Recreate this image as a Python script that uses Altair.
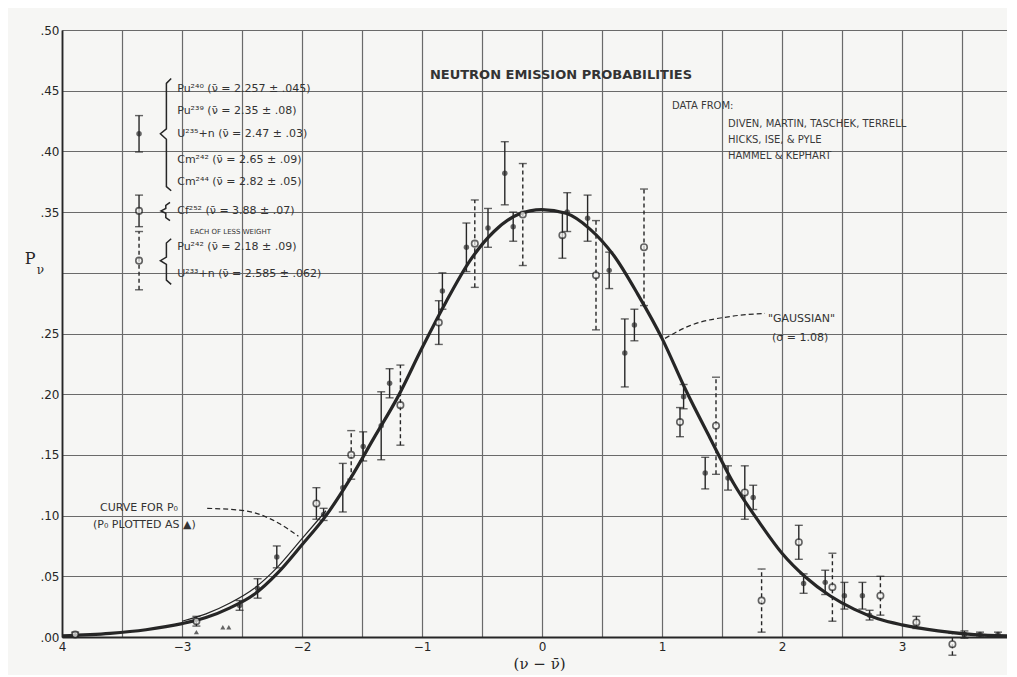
import altair as alt
import pandas as pd

BG = "#f6f6f4"
INK = "#262626"
GRID = "#6a6a6a"
FONT = "DejaVu Sans"

# ---------------- data ----------------
# "Gaussian" curve (sigma = 1.08)
curve_x = [-4.0, -3.6, -3.3, -3.0, -2.8, -2.6, -2.4, -2.2, -2.0, -1.8, -1.6, -1.4, -1.2,
           -1.0, -0.8, -0.6, -0.4, -0.2, 0.0, 0.2, 0.4, 0.6, 0.8, 1.0, 1.2, 1.4, 1.6,
           1.8, 2.0, 2.2, 2.4, 2.6, 2.8, 3.0, 3.3, 3.6, 3.875]
curve_y = [0.001, 0.003, 0.006, 0.011, 0.016, 0.024, 0.035, 0.053, 0.076, 0.100, 0.130,
           0.164, 0.198, 0.238, 0.276, 0.310, 0.334, 0.348, 0.352, 0.349, 0.336, 0.314,
           0.282, 0.246, 0.203, 0.164, 0.126, 0.096, 0.069, 0.049, 0.034, 0.023, 0.015,
           0.010, 0.005, 0.002, 0.001]

# curve for P0
p0_x = [-3.0, -2.8, -2.6, -2.4, -2.2, -2.0, -1.8]
p0_y = [0.013, 0.019, 0.028, 0.040, 0.058, 0.081, 0.104]

# filled points (Pu240, Pu239, U235+n, Cm242, Cm244)
fill_x = [-2.52, -2.37, -2.21, -1.82, -1.66, -1.49, -1.34, -1.27, -0.83, -0.63, -0.45,
          -0.31, -0.24, 0.21, 0.38, 0.56, 0.69, 0.77, 1.18, 1.36, 1.55, 1.76, 2.18,
          2.36, 2.52, 2.67, 2.73, 3.52, 3.65, 3.80]
fill_y = [0.026, 0.040, 0.066, 0.101, 0.123, 0.157, 0.174, 0.209, 0.285, 0.321, 0.337,
          0.382, 0.338, 0.350, 0.345, 0.302, 0.234, 0.257, 0.198, 0.135, 0.131, 0.115,
          0.044, 0.045, 0.034, 0.034, 0.018, 0.002, 0.002, 0.002]
fill_e = [0.004, 0.008, 0.009, 0.005, 0.020, 0.012, 0.028, 0.012, 0.015, 0.020, 0.016,
          0.026, 0.012, 0.016, 0.019, 0.015, 0.028, 0.013, 0.010, 0.013, 0.010, 0.010,
          0.008, 0.010, 0.011, 0.011, 0.004, 0.003, 0.002, 0.002]

# open points, solid bars (Cf252)
open_x = [-3.89, -2.88, -1.88, -0.86, 0.17, 1.15, 1.69, 2.14, 3.12]
open_y = [0.002, 0.013, 0.110, 0.259, 0.331, 0.177, 0.119, 0.078, 0.012]
open_e = [0.002, 0.004, 0.013, 0.018, 0.019, 0.012, 0.022, 0.014, 0.005]

# open points, dashed bars (Pu242, U233+n, each of less weight)
dash_x = [-1.59, -1.18, -0.56, -0.16, 0.45, 0.85, 1.45, 1.83, 2.42, 2.82, 3.42]
dash_y = [0.150, 0.191, 0.324, 0.348, 0.298, 0.321, 0.174, 0.030, 0.041, 0.034, -0.006]
dash_e = [0.020, 0.033, 0.036, 0.042, 0.045, 0.048, 0.040, 0.026, 0.028, 0.016, 0.009]

# P0 plotted as triangles
tri_x = [-2.88, -2.66, -2.61]
tri_y = [0.004, 0.008, 0.008]

# legend symbols
leg_x = -3.358
leg_fill = (0.4145, 0.015)
leg_open = (0.351, 0.013)
leg_dash = (0.310, 0.024)

legend_lines = [
    "Pu²⁴⁰ (ν̄ = 2.257 ± .045)",
    "Pu²³⁹ (ν̄ = 2.35 ± .08)",
    "U²³⁵+n (ν̄ = 2.47 ± .03)",
    "Cm²⁴² (ν̄ = 2.65 ± .09)",
    "Cm²⁴⁴ (ν̄ = 2.82 ± .05)",
    "Cf²⁵² (ν̄ = 3.88 ± .07)",
    "Pu²⁴² (ν̄ = 2.18 ± .09)",
    "U²³³+n (ν̄ = 2.585 ± .062)",
]
legend_y = [0.4515, 0.4334, 0.4145, 0.393, 0.375, 0.351, 0.3215, 0.299]

credit_lines = ["DATA FROM:", "DIVEN, MARTIN, TASCHEK, TERRELL",
                "HICKS, ISE, & PYLE", "HAMMEL & KEPHART"]
credit_x = [1.083, 1.55, 1.55, 1.55]
credit_y = [0.4375, 0.4227, 0.4095, 0.3964]

# bracket outlines (data units)
br1_x = [-3.09, -3.13, -3.13, -3.18, -3.13, -3.13, -3.09]
br1_y = [0.460, 0.456, 0.4186, 0.4145, 0.410, 0.371, 0.3676]
br2_x = [-3.10, -3.135, -3.135, -3.175, -3.135, -3.135, -3.10]
br2_y = [0.358, 0.3555, 0.353, 0.351, 0.349, 0.3455, 0.343]
br3_x = [-3.09, -3.13, -3.13, -3.18, -3.13, -3.13, -3.09]
br3_y = [0.328, 0.3245, 0.313, 0.310, 0.307, 0.294, 0.2905]

# leader lines
lead_g_x = [1.025, 1.233, 1.567, 1.858]
lead_g_y = [0.246, 0.2565, 0.264, 0.2665]
lead_p_x = [-2.79, -2.475, -2.19, -2.03]
lead_p_y = [0.106, 0.104, 0.0935, 0.083]

x_grid = [-4 + 0.5 * i for i in range(16)]
y_grid = [round(0.05 * i, 2) for i in range(11)]

# ---------------- tables ----------------
def err_df(xs, ys, es):
    return pd.DataFrame({"x": xs, "y": ys,
                         "lo": [a - b for a, b in zip(ys, es)],
                         "hi": [a + b for a, b in zip(ys, es)]})

df_fill = err_df(fill_x + [leg_x], fill_y + [leg_fill[0]], fill_e + [leg_fill[1]])
df_open = err_df(open_x + [leg_x], open_y + [leg_open[0]], open_e + [leg_open[1]])
df_dash = err_df(dash_x + [leg_x], dash_y + [leg_dash[0]], dash_e + [leg_dash[1]])
df_curve = pd.DataFrame({"x": curve_x, "y": curve_y})
df_p0 = pd.DataFrame({"x": p0_x, "y": p0_y})
df_tri = pd.DataFrame({"x": tri_x, "y": tri_y})

br_rows = []
for gname, bx, by in [("b1", br1_x, br1_y), ("b2", br2_x, br2_y), ("b3", br3_x, br3_y)]:
    for i, (a, b) in enumerate(zip(bx, by)):
        br_rows.append({"x": a, "y": b, "g": gname, "i": i})
df_br = pd.DataFrame(br_rows)

lead_rows = []
for gname, lx, ly in [("g", lead_g_x, lead_g_y), ("p", lead_p_x, lead_p_y)]:
    for i, (a, b) in enumerate(zip(lx, ly)):
        lead_rows.append({"x": a, "y": b, "g": gname, "i": i})
df_lead = pd.DataFrame(lead_rows)

df_leg = pd.DataFrame({"x": [-3.04] * len(legend_lines), "y": legend_y, "t": legend_lines})
df_cred = pd.DataFrame({"x": credit_x, "y": credit_y, "t": credit_lines})
df_notes = pd.DataFrame({
    "x": [-3.683, -3.742, 1.883, 1.917, -2.933],
    "y": [0.106, 0.092, 0.262, 0.246, 0.3335],
    "t": ["CURVE FOR P₀", "(P₀ PLOTTED AS ▲)", "\"GAUSSIAN\"", "(σ = 1.08)",
          "EACH OF LESS WEIGHT"],
    "fs": [11, 11, 11, 11, 7],
})

xs = alt.Scale(domain=[-4, 3.875], nice=False, zero=False)
ys = alt.Scale(domain=[0, 0.5], nice=False, zero=False)

X = alt.X("x:Q", scale=xs, axis=alt.Axis(
    values=x_grid, title=None, ticks=False, grid=True, gridColor=GRID, gridWidth=1.2,
    domainColor=INK, domainWidth=1.8, labelFont=FONT, labelFontSize=12, labelColor=INK,
    labelPadding=4, labelFlush=False, labelOverlap=False,
    labelExpr="datum.value == -4 ? '4' : (datum.value % 1 == 0 ? format(datum.value, 'd') : '')"))
Y = alt.Y("y:Q", scale=ys, axis=alt.Axis(
    values=y_grid, title=None, ticks=False, grid=True, gridColor=GRID, gridWidth=1.2,
    domainColor=INK, domainWidth=1.8, labelFont=FONT, labelFontSize=12, labelColor=INK,
    labelPadding=3, labelFlush=False, labelOverlap=False,
    labelExpr="abs(datum.value - 0.3) < 0.001 ? '' : replace(format(datum.value, '.2f'), '0.', '.')"))
Xp = alt.X("x:Q", scale=xs)
Yp = alt.Y("y:Q", scale=ys)

curve = alt.Chart(df_curve).mark_line(color=INK, strokeWidth=3.2, interpolate="monotone").encode(X, Y)
p0 = alt.Chart(df_p0).mark_line(color=INK, strokeWidth=1.2, interpolate="monotone").encode(Xp, Yp)

def bars(df, dashed):
    kw = {"strokeDash": [4, 3]} if dashed else {}
    r = alt.Chart(df).mark_rule(color=INK, strokeWidth=1.4, **kw).encode(
        Xp, alt.Y("lo:Q", scale=ys), alt.Y2("hi:Q"))
    c1 = alt.Chart(df).mark_tick(color=INK, orient="horizontal", size=8, thickness=1.4).encode(
        Xp, alt.Y("lo:Q", scale=ys))
    c2 = alt.Chart(df).mark_tick(color=INK, orient="horizontal", size=8, thickness=1.4).encode(
        Xp, alt.Y("hi:Q", scale=ys))
    return [r, c1, c2]

fill_pts = alt.Chart(df_fill).mark_point(shape="circle", filled=True, color=INK, size=30).encode(Xp, Yp)
open_pts = alt.Chart(df_open).mark_point(shape="circle", filled=True, fill=BG, stroke=INK,
                                         strokeWidth=1.6, size=42).encode(Xp, Yp)
dash_pts = alt.Chart(df_dash).mark_point(shape="circle", filled=True, fill=BG, stroke=INK,
                                         strokeWidth=1.6, size=42).encode(Xp, Yp)
tri_pts = alt.Chart(df_tri).mark_point(shape="triangle-up", filled=True, color=INK, size=26).encode(Xp, Yp)

brackets = alt.Chart(df_br).mark_line(color=INK, strokeWidth=1.5).encode(
    Xp, Yp, detail="g:N", order="i:Q")
leaders = alt.Chart(df_lead).mark_line(color=INK, strokeWidth=1.2, strokeDash=[5, 3],
                                       interpolate="monotone").encode(
    Xp, Yp, detail="g:N", order="i:Q")

title = alt.Chart(pd.DataFrame({"x": [0.158], "y": [0.463],
                                "t": ["NEUTRON EMISSION PROBABILITIES"]})).mark_text(
    font=FONT, fontSize=13, fontWeight="bold", color="#333333", align="center",
    baseline="middle").encode(Xp, Yp, text="t:N")
leg_text = alt.Chart(df_leg).mark_text(font=FONT, fontSize=11, color="#333333", align="left",
                                       baseline="middle").encode(Xp, Yp, text="t:N")
cred_text = alt.Chart(df_cred).mark_text(font=FONT, fontSize=10, color="#3a3a3a", align="left",
                                         baseline="middle").encode(Xp, Yp, text="t:N")
notes = alt.Chart(df_notes).mark_text(font=FONT, color="#333333", align="left",
                                      baseline="middle").encode(
    Xp, Yp, text="t:N", size=alt.Size("fs:Q", scale=None, legend=None))

axis_titles = alt.Chart(pd.DataFrame({
    "x": [-0.02, -4.265, -4.18], "y": [-0.0225, 0.311, 0.302],
    "t": ["(ν − ν̄)", "P", "ν"], "fs": [15, 16, 12]})).mark_text(
    font="DejaVu Serif", color=INK, align="center", baseline="middle").encode(
    Xp, Yp, text="t:N", size=alt.Size("fs:Q", scale=None, legend=None))

layers = [curve, p0, leaders, brackets]
layers += bars(df_fill, False) + bars(df_open, False) + bars(df_dash, True)
layers += [fill_pts, open_pts, dash_pts, tri_pts, title, leg_text, cred_text, notes, axis_titles]

chart = alt.layer(*layers).properties(
    width=945, height=607,
    autosize=alt.AutoSizeParams(type="none"),
    padding={"left": 54, "top": 22, "right": 0, "bottom": 38},
    background=BG,
).configure_view(stroke=None)

chart.save("out.html", embed_options={"renderer": "svg", "actions": False})
